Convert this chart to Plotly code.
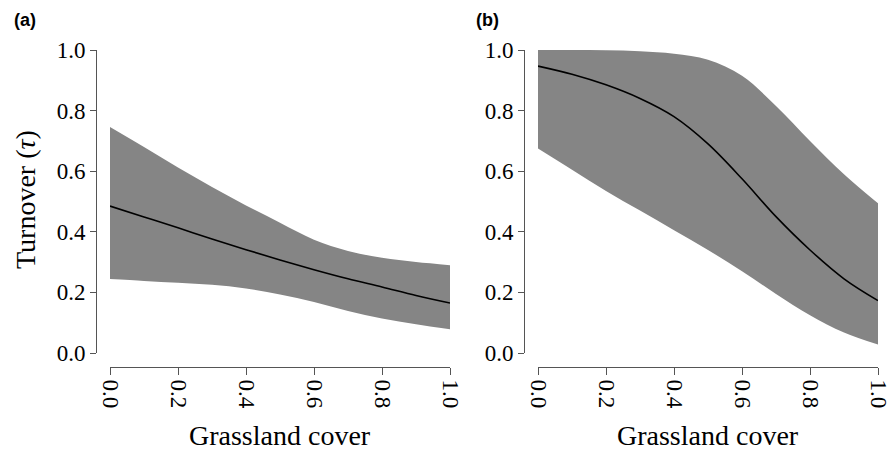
import plotly.graph_objects as go

# ---- data ----
x_grid = [0.0, 0.1, 0.2, 0.3, 0.4, 0.5, 0.6, 0.7, 0.8, 0.9, 1.0]

a_upper = [0.746, 0.680, 0.612, 0.548, 0.487, 0.430, 0.374, 0.337, 0.314, 0.300, 0.290]
a_lower = [0.244, 0.238, 0.232, 0.225, 0.213, 0.193, 0.168, 0.139, 0.114, 0.095, 0.078]
a_mean = [0.485, 0.449, 0.413, 0.376, 0.341, 0.307, 0.275, 0.245, 0.218, 0.190, 0.165]

b_upper = [1.000, 1.000, 0.999, 0.996, 0.988, 0.968, 0.915, 0.815, 0.700, 0.590, 0.494]
b_lower = [0.675, 0.605, 0.535, 0.470, 0.405, 0.340, 0.270, 0.195, 0.125, 0.068, 0.028]
b_mean = [0.947, 0.920, 0.885, 0.840, 0.780, 0.690, 0.575, 0.450, 0.340, 0.245, 0.173]

tick_vals = [0.0, 0.2, 0.4, 0.6, 0.8, 1.0]
tick_text = ["0.0", "0.2", "0.4", "0.6", "0.8", "1.0"]

panel_labels = ["(a)", "(b)"]
x_title = "Grassland cover"
y_title = "Turnover (<i>τ</i>)"

W, H = 891, 450
BAND = "#858585"
AXC = "#555555"
SERIF = "Liberation Serif, Times New Roman, serif"
SANS = "Liberation Sans, Arial, sans-serif"

fig = go.Figure()

panels = [
    ("x", "y", a_upper, a_lower, a_mean),
    ("x2", "y2", b_upper, b_lower, b_mean),
]
for xa, ya, up, lo, mu in panels:
    fig.add_trace(go.Scatter(x=x_grid, y=lo, mode="lines", line=dict(width=0, shape="spline"),
                             xaxis=xa, yaxis=ya, showlegend=False, hoverinfo="skip"))
    fig.add_trace(go.Scatter(x=x_grid, y=up, mode="lines", line=dict(width=0, shape="spline"),
                             fill="tonexty", fillcolor=BAND,
                             xaxis=xa, yaxis=ya, showlegend=False, hoverinfo="skip"))
    fig.add_trace(go.Scatter(x=x_grid, y=mu, mode="lines",
                             line=dict(color="black", width=1.6, shape="spline"),
                             xaxis=xa, yaxis=ya, showlegend=False))

# pixel geometry -> paper fractions
def px(v):
    return v / W

def py(v):
    return 1 - v / H

y_dom = [py(353), py(50)]
x_pos = py(367)

common_x = dict(range=[0, 1], tickvals=tick_vals, ticktext=tick_text, tickangle=90,
                showline=True, linecolor=AXC, linewidth=1, ticks="outside", ticklen=7,
                tickcolor=AXC, showgrid=False, zeroline=False, anchor="free", position=x_pos,
                automargin=False,
                tickfont=dict(family=SERIF, size=23, color="black"))
common_y = dict(range=[0, 1], domain=y_dom, tickvals=tick_vals, ticktext=tick_text,
                showline=True, linecolor=AXC, linewidth=1, ticks="outside", ticklen=6,
                tickcolor=AXC, showgrid=False, zeroline=False, anchor="free",
                automargin=False,
                tickfont=dict(family=SERIF, size=23, color="black"))

fig.update_layout(
    width=W, height=H,
    margin=dict(l=0, r=0, t=0, b=0, autoexpand=False),
    paper_bgcolor="white", plot_bgcolor="white",
    xaxis=dict(domain=[px(110), px(450)], **common_x),
    xaxis2=dict(domain=[px(538), px(878)], **common_x),
    yaxis=dict(position=px(96), **common_y),
    yaxis2=dict(position=px(524), **common_y),
)

# axis titles
for cx in (280, 708):
    fig.add_annotation(text=x_title, x=px(cx), y=py(435), xref="paper", yref="paper",
                       xanchor="center", yanchor="middle", showarrow=False,
                       font=dict(family=SERIF, size=28, color="black"))
fig.add_annotation(text=y_title, x=px(25), y=py(200), xref="paper", yref="paper",
                   xanchor="center", yanchor="middle", textangle=-90, showarrow=False,
                   font=dict(family=SERIF, size=28, color="black"))

# panel labels
for lab, cx in zip(panel_labels, (25, 488)):
    fig.add_annotation(text="<b>" + lab + "</b>", x=px(cx), y=py(20), xref="paper", yref="paper",
                       xanchor="center", yanchor="middle", showarrow=False,
                       font=dict(family=SANS, size=18, color="black"))

fig.write_html("out.html",
               config={"displayModeBar": False},
               post_script="document.body.style.margin='0';document.body.style.padding='0';"
                           "document.body.style.overflow='hidden';")
